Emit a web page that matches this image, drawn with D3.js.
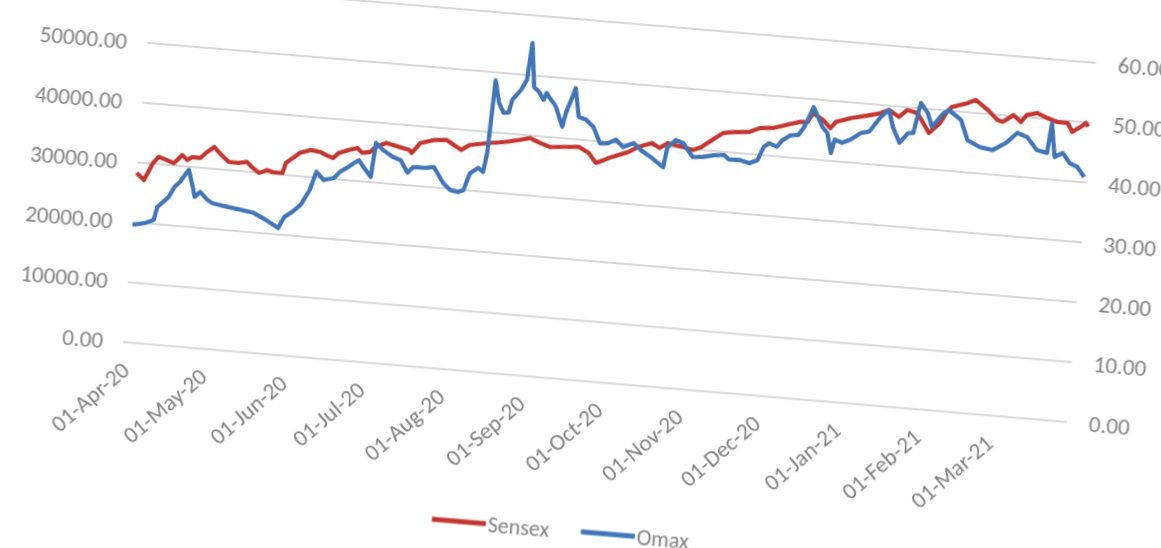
<!DOCTYPE html>
<html>
<head>
<meta charset="utf-8">
<script src="https://cdn.jsdelivr.net/npm/d3@7"></script>
<style>
  html, body { margin: 0; background: #fff; }
  svg { display: block; }
  text { font-family: Carlito, Calibri, "Liberation Sans", Arial, sans-serif; fill: #808080; }
</style>
</head>
<body>
<svg id="chart" width="1161" height="548"></svg>
<script>
// values
var sensexDates = ["2020-04-01","2020-04-04","2020-04-07","2020-04-09","2020-04-12","2020-04-15","2020-04-18","2020-04-20","2020-04-22","2020-04-25",
  "2020-04-27","2020-04-30","2020-05-03","2020-05-06","2020-05-10","2020-05-13","2020-05-15","2020-05-18","2020-05-21","2020-05-23",
  "2020-05-27","2020-05-28","2020-05-31","2020-06-02","2020-06-06","2020-06-10","2020-06-12","2020-06-15","2020-06-17","2020-06-21",
  "2020-06-24","2020-06-26","2020-06-29","2020-07-01","2020-07-05","2020-07-10","2020-07-14","2020-07-15","2020-07-18","2020-07-23",
  "2020-07-28","2020-07-31","2020-08-03","2020-08-06","2020-08-13","2020-08-19","2020-08-25","2020-08-29","2020-09-02","2020-09-06",
  "2020-09-12","2020-09-17","2020-09-21","2020-09-24","2020-09-27","2020-09-30","2020-10-06","2020-10-10","2020-10-15","2020-10-18",
  "2020-10-21","2020-10-27","2020-10-31","2020-11-03","2020-11-07","2020-11-11","2020-11-15","2020-11-21","2020-11-25","2020-11-30",
  "2020-12-05","2020-12-10","2020-12-13","2020-12-15","2020-12-19","2020-12-22","2020-12-24","2020-12-30","2021-01-06","2021-01-10",
  "2021-01-13","2021-01-17","2021-01-20","2021-01-24","2021-01-29","2021-02-02","2021-02-04","2021-02-06","2021-02-12","2021-02-15",
  "2021-02-20","2021-02-24","2021-02-26","2021-03-02","2021-03-05","2021-03-07","2021-03-11","2021-03-15","2021-03-19","2021-03-23",
  "2021-03-25","2021-03-28","2021-03-30","2021-03-31"];
var sensexValues = [28270,27180,30140,31240,30840,30420,31870,31120,31700,31640,
  32570,33660,32430,31390,31370,31640,30890,29980,30570,30330,
  30290,32020,33100,33860,34510,34310,33910,33500,34420,35070,
  35500,34760,35020,35950,36750,36270,35920,35450,37210,37890,
  38090,37350,36650,37580,38160,38540,39120,39590,38910,38370,
  38620,38810,37940,36380,36960,37590,38620,39640,40480,39750,
  40680,40250,39880,40480,41830,43140,43440,43690,44480,44670,
  45360,46040,46140,47720,46690,45460,46560,47450,48180,48660,
  49300,48280,49530,49180,46040,47840,49590,50670,51540,52180,
  50660,49150,48900,50190,49130,50390,50870,50180,49660,49630,
  48220,49150,49910,49310];

var omaxDates = ["2020-04-01","2020-04-06","2020-04-09","2020-04-10","2020-04-12","2020-04-14","2020-04-16","2020-04-18","2020-04-20","2020-04-21",
  "2020-04-23","2020-04-24","2020-04-26","2020-04-29","2020-05-01","2020-05-07","2020-05-12","2020-05-17","2020-05-22","2020-05-27",
  "2020-05-29","2020-06-01","2020-06-04","2020-06-07","2020-06-09","2020-06-12","2020-06-16","2020-06-18","2020-06-21","2020-06-23",
  "2020-06-25","2020-06-27","2020-06-30","2020-07-01","2020-07-04","2020-07-08","2020-07-11","2020-07-14","2020-07-16","2020-07-21",
  "2020-07-24","2020-07-28","2020-07-31","2020-08-03","2020-08-05","2020-08-07","2020-08-10","2020-08-12","2020-08-13","2020-08-14",
  "2020-08-16","2020-08-18","2020-08-20","2020-08-21","2020-08-24","2020-08-26","2020-08-27","2020-08-29","2020-08-31","2020-09-02",
  "2020-09-03","2020-09-04","2020-09-06","2020-09-07","2020-09-10","2020-09-11","2020-09-13","2020-09-14","2020-09-16","2020-09-19",
  "2020-09-22","2020-09-25","2020-09-28","2020-10-01","2020-10-04","2020-10-08","2020-10-11","2020-10-15","2020-10-18","2020-10-20",
  "2020-10-21","2020-10-24","2020-10-27","2020-10-29","2020-10-31","2020-11-04","2020-11-08","2020-11-12","2020-11-14","2020-11-18",
  "2020-11-22","2020-11-25","2020-11-27","2020-11-29","2020-12-02","2020-12-04","2020-12-07","2020-12-10","2020-12-12","2020-12-15",
  "2020-12-19","2020-12-21","2020-12-23","2020-12-24","2020-12-27","2020-12-30","2021-01-03","2021-01-06","2021-01-10","2021-01-13",
  "2021-01-15","2021-01-18","2021-01-21","2021-01-23","2021-01-25","2021-01-28","2021-01-30","2021-02-03","2021-02-05","2021-02-10",
  "2021-02-13","2021-02-18","2021-02-23","2021-02-28","2021-03-04","2021-03-08","2021-03-12","2021-03-16","2021-03-17","2021-03-19",
  "2021-03-22","2021-03-25","2021-03-28","2021-03-31"];
var omaxValues = [19.6,20.1,20.7,22.9,23.8,24.7,26.5,27.4,28.9,29.5,
  26.7,25.1,26.0,24.8,24.3,23.9,23.6,23.3,22.3,21.1,
  23.0,24.0,25.3,27.9,31.0,29.7,30.2,31.3,32.2,32.9,
  33.5,32.4,30.9,36.6,35.5,34.5,34.1,32.1,33.1,33.2,
  33.4,30.9,29.8,29.6,30.0,32.9,33.9,33.3,36.5,48.7,
  45.0,43.4,43.5,45.7,47.4,49.2,55.4,48.1,47.4,46.1,
  47.3,46.7,45.7,45.1,41.9,44.3,47.0,48.5,43.8,43.4,
  42.3,39.7,39.8,40.5,39.4,40.2,39.1,38.1,37.2,36.6,
  40.0,41.3,40.9,39.8,38.7,38.9,39.3,39.5,38.8,38.9,
  38.5,39.1,41.4,42.1,41.6,42.8,43.7,43.9,45.3,48.7,
  45.5,44.6,41.3,43.6,43.2,43.8,45.1,45.4,48.0,49.3,
  46.5,44.0,45.7,45.8,50.9,49.3,47.1,49.5,50.1,48.6,
  45.4,44.4,44.1,45.5,47.3,46.7,44.7,44.4,49.4,43.8,
  44.6,43.0,42.5,40.9];

var leftTicks = [0, 10000, 20000, 30000, 40000, 50000, 60000];
var rightTicks = [0, 10, 20, 30, 40, 50, 60];
var monthTicks = ["2020-04-01","2020-05-01","2020-06-01","2020-07-01","2020-08-01","2020-09-01",
  "2020-10-01","2020-11-01","2020-12-01","2021-01-01","2021-02-01","2021-03-01"];
var seriesNames = ["Sensex", "Omax"];
var seriesColors = ["#c4362f", "#3f74b8"];

var parseDate = d3.timeParse("%Y-%m-%d");
var fmtTick = d3.timeFormat("%d-%b-%y");

var svg = d3.select("#chart");

// soften a little, the reference is a photo
svg.append("defs").append("filter")
  .attr("id", "soft")
  .append("feGaussianBlur")
  .attr("stdDeviation", 0.6);

// plot box in its own flat frame; the photo is tilted, so the frame gets an affine warp
const PW = 944;
const PH = 359;
var plot = svg.append("g")
  .attr("transform", "matrix(1,0.0847,-0.0808,1,152,-17)")
  .attr("filter", "url(#soft)");

var x = d3.scaleTime()
  .domain([parseDate("2020-04-01"), parseDate("2021-04-01")])
  .range([0, PW]);
var yLeft = d3.scaleLinear().domain([0, 60000]).range([PH, 0]);
var yRight = d3.scaleLinear().domain([0, 60]).range([PH, 0]);

//gridlines
plot.append("g")
  .selectAll("line")
  .data(leftTicks)
  .enter().append("line")
  .attr("x1", 0).attr("x2", PW)
  .attr("y1", d => yLeft(d)).attr("y2", d => yLeft(d))
  .style("stroke", "#d8d8d8")
  .style("stroke-width", 2);

//left axis
var leftAxis = plot.append("g")
  .call(d3.axisLeft(yLeft).tickValues(leftTicks).tickSize(0).tickPadding(20).tickFormat(d3.format(".2f")));
leftAxis.select(".domain").remove();

//right axis
var rightAxis = plot.append("g")
  .attr("transform", "translate(" + PW + ",0)")
  .call(d3.axisRight(yRight).tickValues(rightTicks).tickSize(0).tickPadding(22).tickFormat(d3.format(".2f")));
rightAxis.select(".domain").remove();

//bottom axis, rotated date labels
var bottomAxis = plot.append("g")
  .attr("transform", "translate(0," + PH + ")")
  .call(d3.axisBottom(x).tickValues(monthTicks.map(parseDate)).tickSize(0).tickFormat(fmtTick));
bottomAxis.select(".domain").remove();
bottomAxis.selectAll("text")
  .attr("y", 0)
  .attr("dy", "0.35em")
  .style("text-anchor", "end")
  .attr("transform", "translate(4,24) rotate(-45)");

plot.selectAll(".tick text")
  .style("font-size", "23px")
  .style("fill", "#808080");

var sensex = sensexDates.map((d, i) => ({ date: parseDate(d), v: sensexValues[i] }));
var omax = omaxDates.map((d, i) => ({ date: parseDate(d), v: omaxValues[i] }));

var sensexLine = d3.line().x(d => x(d.date)).y(d => yLeft(d.v));
var omaxLine = d3.line().x(d => x(d.date)).y(d => yRight(d.v));

plot.append("path")
  .datum(sensex)
  .attr("d", sensexLine)
  .style("fill", "none")
  .style("stroke", seriesColors[0])
  .style("stroke-width", 4.2)
  .style("stroke-linejoin", "round");

plot.append("path")
  .datum(omax)
  .attr("d", omaxLine)
  .style("fill", "none")
  .style("stroke", seriesColors[1])
  .style("stroke-width", 4.2)
  .style("stroke-linejoin", "round");

//legend below the date labels
var legendX = [321, 470];
var legend = plot.append("g").attr("transform", "translate(0,509)");
seriesNames.forEach((name, i) => {
  legend.append("line")
    .attr("x1", legendX[i]).attr("x2", legendX[i] + 54)
    .attr("y1", 0).attr("y2", 0)
    .style("stroke", seriesColors[i])
    .style("stroke-width", 5);
  legend.append("text")
    .attr("x", legendX[i] + 56)
    .attr("y", 0)
    .attr("dy", "0.35em")
    .style("font-size", "22px")
    .text(name);
});
</script>
</body>
</html>
